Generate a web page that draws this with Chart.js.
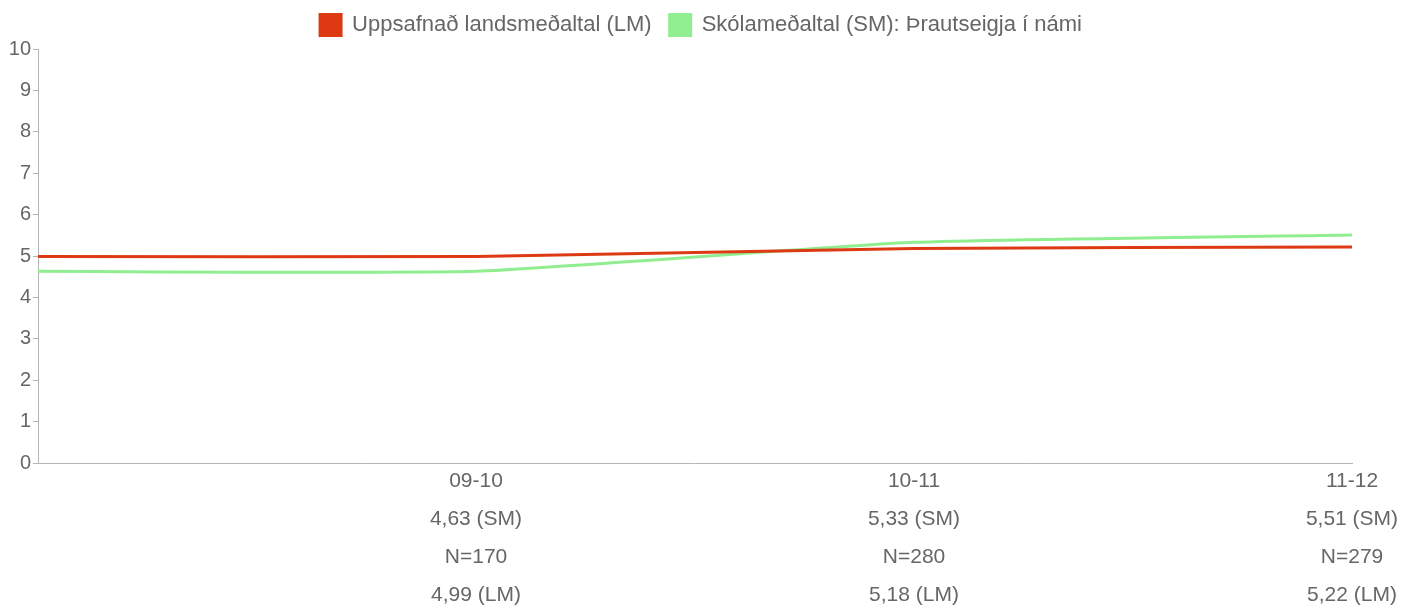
<!DOCTYPE html>
<html>
<head>
<meta charset="utf-8">
<script src="https://cdn.jsdelivr.net/npm/chart.js@4.4.0/dist/chart.umd.min.js"></script>
<style>
  html, body { margin: 0; padding: 0; background: #fff; }
  #wrap { width: 1413px; height: 605px; position: relative; }
</style>
</head>
<body>
<div id="wrap"><canvas id="chart"></canvas></div>
<script>
  const periods = ['', '09-10', '10-11', '11-12'];
  const smValues = [4.63, 4.63, 5.33, 5.51];
  const lmValues = [4.99, 4.99, 5.18, 5.22];
  const nValues = [null, 170, 280, 279];
  const yTicks = [0, 1, 2, 3, 4, 5, 6, 7, 8, 9, 10];

  const fmt = (v) => v.toFixed(2).replace('.', ',');
  const labels = periods.map((p, i) => p === '' ? '' :
    [p, `${fmt(smValues[i])} (SM)`, `N=${nValues[i]}`, `${fmt(lmValues[i])} (LM)`]);

  const FONT = "'Liberation Sans', Arial, Helvetica, sans-serif";
  const TXT = '#666';
  const AXIS = '#b5b5b5';

  // legend in the original is centred on the whole canvas, not the padded area
  const legendNudge = {
    id: 'legendNudge',
    afterLayout(chart) {
      const lg = chart.legend;
      if (!lg) return;
      lg.left += 25; lg.right += 25;
      lg.top -= 3; lg.bottom -= 3;
    },
  };

  new Chart(document.getElementById('chart'), {
    type: 'line',
    data: {
      labels,
      datasets: [{
        label: 'Uppsafnað landsmeðaltal (LM)',
        data: lmValues,
        borderColor: '#dd3a14',
        backgroundColor: '#dd3a14',
        borderWidth: 3,
        pointRadius: 0,
        tension: 0.15,
      }, {
        label: 'Skólameðaltal (SM): Þrautseigja í námi',
        data: smValues,
        borderColor: '#90ee90',
        backgroundColor: '#90ee90',
        borderWidth: 3,
        pointRadius: 0,
        tension: 0.15,
      }],
    },
    plugins: [legendNudge],
    options: {
      responsive: true,
      maintainAspectRatio: false,
      animation: false,
      layout: { padding: { left: 0, right: 61, top: -1, bottom: 0 } },
      plugins: {
        tooltip: { enabled: false },
        legend: {
          position: 'top',
          labels: {
            color: TXT,
            font: { family: FONT, size: 22 },
            boxWidth: 21,
            boxHeight: 21,
            padding: 18,
          },
        },
      },
      scales: {
        x: {
          grid: { display: false },
          border: { display: true, color: AXIS, width: 1 },
          ticks: {
            color: TXT,
            font: { family: FONT, size: 21, lineHeight: '38px' },
            padding: -9,
            maxRotation: 0,
            autoSkip: false,
          },
          afterFit: (s) => { s.height = 142; },
        },
        y: {
          min: 0,
          max: 10,
          afterBuildTicks: (s) => { s.ticks = yTicks.map((v) => ({ value: v })); },
          grid: { drawOnChartArea: false, tickLength: 5, color: AXIS },
          border: { display: true, color: AXIS, width: 1 },
          ticks: {
            color: TXT,
            font: { family: FONT, size: 20 },
            padding: 2,
          },
          afterFit: (s) => { s.width = 38; },
        },
      },
    },
  });
</script>
</body>
</html>
